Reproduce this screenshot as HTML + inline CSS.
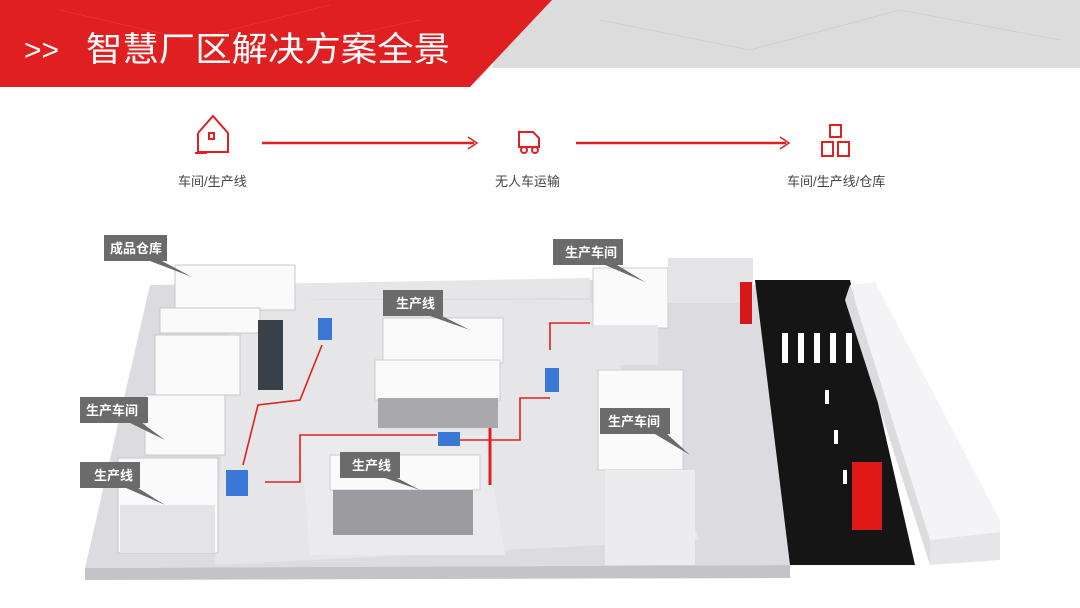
<!DOCTYPE html>
<html><head><meta charset="utf-8"><style>
body{margin:0;width:1080px;height:608px;overflow:hidden;background:#fff;font-family:"Liberation Sans","Noto Sans CJK SC",sans-serif}
svg{display:block}
text{font-family:"Liberation Sans","Noto Sans CJK SC",sans-serif}
</style></head><body>
<svg width="1080" height="608" viewBox="0 0 1080 608">
<!-- header -->
<polygon points="510,0 1080,0 1080,68 492,68" fill="#dcdcdc"/>
<polygon points="0,0 552,0 470,87 0,87" fill="#e02020"/>
<g stroke="#f05050" stroke-width="0.6" opacity="0.6"><line x1="60" y1="10" x2="190" y2="40"/><line x1="190" y1="40" x2="330" y2="5"/><line x1="230" y1="60" x2="420" y2="20"/></g>
<g stroke="#c8c8c8" stroke-width="0.6"><line x1="600" y1="20" x2="750" y2="50"/><line x1="750" y1="50" x2="900" y2="10"/><line x1="900" y1="10" x2="1060" y2="40"/></g>
<text x="24" y="60" font-size="30" fill="#fff">&gt;&gt;</text>
<text x="86" y="61" font-size="34" fill="#fff" textLength="364" lengthAdjust="spacingAndGlyphs">智慧厂区解决方案全景</text>
<!-- flow icons -->
<g fill="none" stroke="#e02020" stroke-width="2">
<polyline points="198,133 213,116 228,133 228,152 198,152 198,133"/>
<rect x="209" y="133" width="5" height="6"/>
<line x1="195" y1="153" x2="207" y2="153"/>
<path d="M519,132 h14 l6,6 v9 h-20 z"/><circle cx="524" cy="150" r="3"/><circle cx="535" cy="150" r="3"/>
<rect x="830" y="125" width="11" height="12"/><rect x="822" y="142" width="11" height="14"/><rect x="838" y="142" width="11" height="14"/>
</g>
<g stroke="#e02020" stroke-width="2.5"><line x1="262" y1="143" x2="474" y2="143"/><line x1="576" y1="143" x2="786" y2="143"/></g>
<g fill="none" stroke="#e02020" stroke-width="1.5"><polyline points="468,137 477,143 468,149"/><polyline points="780,137 789,143 780,149"/></g>
<g font-size="13" fill="#444"><text x="178" y="186">车间/生产线</text><text x="495" y="186">无人车运输</text><text x="787" y="186">车间/生产线/仓库</text></g>
<!-- scene floor -->
<polygon points="150,285 590,280 760,285 790,565 85,568" fill="#dcdce0"/>
<polygon points="85,568 790,565 790,578 85,580" fill="#c4c4c8"/>
<polygon points="215,285 590,278 590,298 225,300" fill="#e6e6e9"/>
<polygon points="230,300 590,300 700,540 215,565" fill="#e6e6e9"/>
<polygon points="300,435 485,435 505,555 310,555" fill="#ebebed"/>
<!-- road -->
<polygon points="755,280 850,280 915,565 790,565" fill="#151515"/>
<g fill="#fff"><rect x="782" y="333" width="6" height="30"/><rect x="798" y="333" width="6" height="30"/><rect x="814" y="333" width="6" height="30"/><rect x="830" y="333" width="6" height="30"/><rect x="846" y="333" width="6" height="30"/>
<rect x="825" y="390" width="4" height="14"/><rect x="834" y="430" width="4" height="14"/><rect x="843" y="470" width="4" height="14"/><rect x="852" y="510" width="4" height="14"/></g>
<rect x="852" y="462" width="30" height="68" fill="#e01818"/>
<!-- right long building -->
<polygon points="850,285 875,282 1000,520 1000,535 930,540" fill="#f4f4f6"/>
<polygon points="930,540 1000,532 1000,560 930,565" fill="#e6e6e8"/>
<polygon points="850,285 930,540 930,565 845,300" fill="#dcdcdf"/>
<!-- left buildings -->
<g fill="#fafafa" stroke="#c8c8cc">
<rect x="175" y="265" width="120" height="45"/>
<rect x="160" y="308" width="100" height="25"/>
<rect x="155" y="335" width="85" height="60"/>
<rect x="145" y="395" width="80" height="60"/>
<rect x="118" y="458" width="100" height="95"/>
</g>
<rect x="120" y="505" width="95" height="48" fill="#e4e4e8"/>
<rect x="258" y="320" width="25" height="70" fill="#3a4048"/>
<!-- center buildings -->
<rect x="383" y="318" width="120" height="45" fill="#fafafa" stroke="#ccc"/>
<rect x="375" y="360" width="125" height="40" fill="#fafafa" stroke="#ccc"/>
<rect x="378" y="398" width="120" height="30" fill="#a9a9ad"/>
<rect x="330" y="455" width="150" height="35" fill="#fafafa" stroke="#ccc"/>
<rect x="333" y="490" width="140" height="45" fill="#9c9ca0"/>
<!-- right buildings -->
<rect x="593" y="268" width="75" height="60" fill="#fafafa" stroke="#ccc"/>
<rect x="593" y="325" width="65" height="40" fill="#e6e6ea"/>
<rect x="598" y="370" width="85" height="100" fill="#fafafa" stroke="#ccc"/>
<rect x="605" y="470" width="90" height="95" fill="#ececef"/>
<rect x="668" y="258" width="85" height="45" fill="#e4e4e7"/>
<rect x="740" y="282" width="12" height="42" fill="#d81818"/>
<!-- AGVs -->
<g fill="#3a78d8"><rect x="318" y="318" width="14" height="22"/><rect x="545" y="368" width="14" height="24"/><rect x="438" y="432" width="22" height="14"/><rect x="226" y="470" width="22" height="26"/></g>
<!-- red routes -->
<g fill="none" stroke="#e02020" stroke-width="1.6">
<polyline points="243,465 258,405 300,400 322,345"/>
<polyline points="460,440 520,440 520,398 550,398"/>
<polyline points="437,435 300,435 300,482 265,482"/>
<polyline points="590,323 550,323 550,350"/>
<line x1="490" y1="428" x2="490" y2="485" stroke-width="3"/>
</g>
<!-- callouts -->
<g fill="#6b6b6b">
<rect x="104" y="235" width="63" height="26"/><polygon points="150,261 162,261 192,277"/>
<rect x="383" y="290" width="60" height="26"/><polygon points="430,316 442,316 470,330"/>
<rect x="553" y="239" width="70" height="26"/><polygon points="605,265 617,265 645,282"/>
<rect x="80" y="397" width="68" height="26"/><polygon points="130,423 142,423 165,440"/>
<rect x="80" y="462" width="60" height="26"/><polygon points="126,488 138,488 165,505"/>
<rect x="340" y="452" width="60" height="26"/><polygon points="385,478 397,478 420,490"/>
<rect x="600" y="408" width="70" height="26"/><polygon points="655,434 667,434 690,455"/>
</g>
<g font-size="13" fill="#fff" font-weight="bold">
<text x="110" y="253">成品仓库</text><text x="396" y="308">生产线</text><text x="565" y="257">生产车间</text>
<text x="86" y="415">生产车间</text><text x="94" y="480">生产线</text><text x="352" y="470">生产线</text><text x="608" y="426">生产车间</text>
</g>
</svg>
</body></html>
